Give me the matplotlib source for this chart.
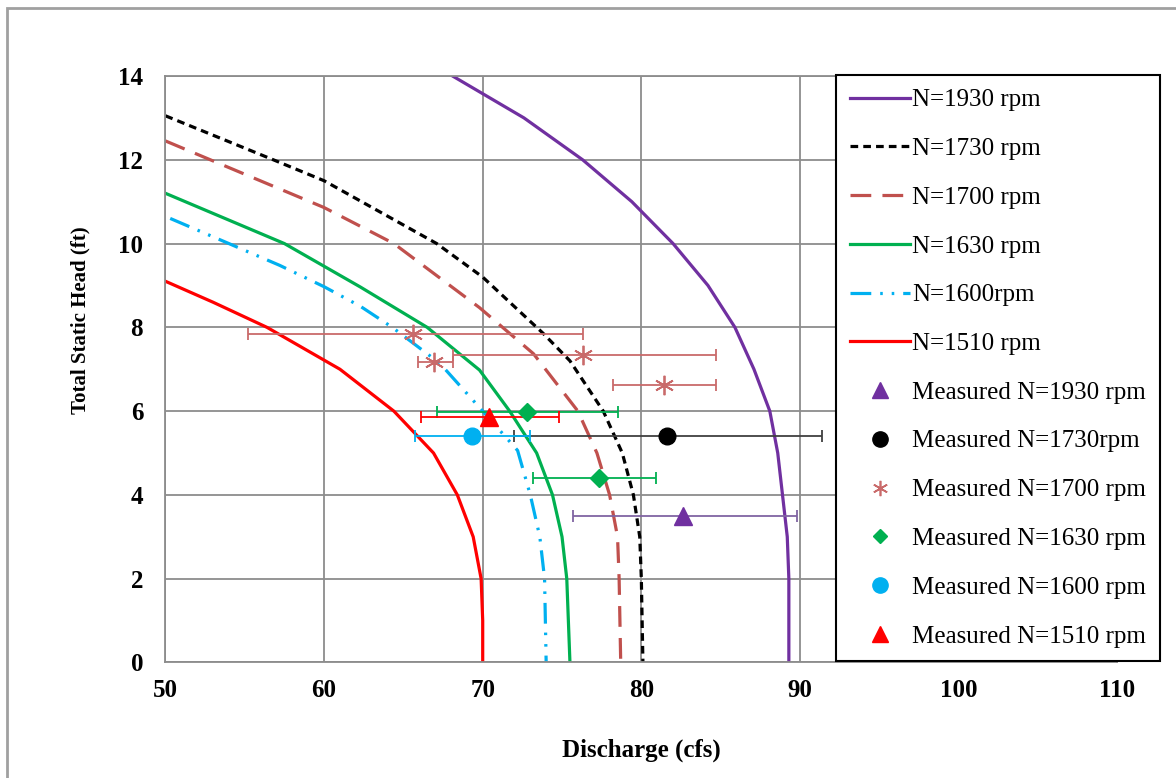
#!/usr/bin/python
# -*- coding: utf-8 -*-

import matplotlib
matplotlib.use('Agg')
import matplotlib.pyplot as plt
from matplotlib.lines import Line2D
from matplotlib.patches import Rectangle
import numpy as np

plt.rcParams['font.family'] = ['Liberation Serif', 'DejaVu Serif']

# pump curves: discharge (cfs) vs total static head (ft)
q1930 = [68.1, 72.6, 76.3, 79.4, 82.0, 84.2, 85.9, 87.1, 88.1, 88.6, 88.9, 89.2, 89.3, 89.3, 89.3]
h1930 = [14.0, 13.0, 12.0, 11.0, 10.0, 9.0, 8.0, 7.0, 6.0, 5.0, 4.0, 3.0, 2.0, 1.0, 0.0]

q1730 = [50.0, 56.8, 60.0, 67.1, 70.0, 73.8, 75.5, 77.6, 78.8, 79.5, 79.9, 80.0, 80.1]
h1730 = [13.05, 12.0, 11.5, 10.0, 9.2, 7.86, 7.2, 6.0, 5.0, 4.0, 3.0, 2.0, 0.0]

q1700 = [50.0, 60.0, 64.4, 69.8, 73.2, 76.0, 77.2, 78.0, 78.5, 78.6, 78.7]
h1700 = [12.45, 10.86, 10.0, 8.47, 7.37, 6.0, 5.0, 4.0, 3.0, 2.0, 0.0]

q1630 = [50.0, 57.5, 62.3, 66.5, 69.8, 71.7, 73.4, 74.4, 75.0, 75.3, 75.5]
h1630 = [11.2, 10.0, 8.96, 8.0, 6.98, 6.0, 5.0, 4.0, 3.0, 2.0, 0.0]

q1600 = [50.3, 54.0, 57.2, 60.0, 62.3, 64.3, 67.3, 70.0, 72.2, 73.0, 73.6, 73.9, 74.0]
h1600 = [10.6, 10.0, 9.48, 8.97, 8.5, 8.0, 7.14, 6.0, 5.06, 4.0, 3.0, 2.0, 0.0]

q1510 = [50.0, 53.0, 56.4, 61.0, 64.4, 66.9, 68.4, 69.4, 69.9, 70.0, 70.0]
h1510 = [9.1, 8.6, 8.0, 7.0, 6.0, 5.0, 4.0, 3.0, 2.0, 1.0, 0.0]

# measured points with discharge ranges (low / high)
m1930_q, m1930_h, m1930_lo, m1930_hi = [82.6], [3.5], [75.7], [89.8]
m1730_q, m1730_h, m1730_lo, m1730_hi = [81.6], [5.4], [72.0], [91.4]
m1700_q = [65.6, 66.9, 76.3, 81.4]
m1700_h = [7.83, 7.18, 7.35, 6.62]
m1700_lo = [55.2, 65.9, 68.1, 78.2]
m1700_hi = [76.3, 68.1, 84.7, 84.7]
m1630_q, m1630_h, m1630_lo, m1630_hi = [72.8, 77.3], [5.97, 4.4], [67.1, 73.2], [78.5, 80.9]
m1600_q, m1600_h, m1600_lo, m1600_hi = [69.3], [5.4], [65.7], [73.0]
m1510_q, m1510_h, m1510_lo, m1510_hi = [70.4], [5.85], [66.1], [74.8]

purple = '#7030A0'
brown = '#C0504D'
green = '#00B050'
cyan = '#00B0F0'
red = '#FF0000'

fig = plt.figure(figsize=(11.76, 7.78), dpi=100)
ax = fig.add_axes([0.1407, 0.1485, 0.8093, 0.7538])

# outer chart frame
fig.patches.append(Rectangle((7 / 1176., -0.1), 1.2, 1.1 - 8 / 778., transform=fig.transFigure,
                             fill=False, edgecolor='#a0a0a0', linewidth=2))

lw = 2.3
l1, = ax.plot(q1930, h1930, color=purple, lw=lw, label='N=1930 rpm')
l2, = ax.plot(q1730, h1730, color='black', lw=lw, linestyle=(0, (2.4, 1.6)), label='N=1730 rpm')
l3, = ax.plot(q1700, h1700, color=brown, lw=lw, linestyle=(0, (6.5, 3.5)), label='N=1700 rpm')
l4, = ax.plot(q1630, h1630, color=green, lw=lw, label='N=1630 rpm')
l5, = ax.plot(q1600, h1600, color=cyan, lw=lw,
              linestyle=(0, (6.5, 2.8, 0.8, 2.8, 0.8, 2.8)), label='N=1600rpm')
l6, = ax.plot(q1510, h1510, color=red, lw=lw, label='N=1510 rpm')


def meas(q, h, lo, hi, color, ecolor, marker, ms, **kw):
    q = np.array(q)
    xerr = [q - np.array(lo), np.array(hi) - q]
    ax.errorbar(q, h, xerr=xerr, fmt='none', ecolor=ecolor, elinewidth=1.3,
                capsize=4.5, capthick=1.3, zorder=4)
    ax.plot(q, h, linestyle='none', marker=marker, ms=ms, color=color, zorder=5, **kw)


meas(m1930_q, m1930_h, m1930_lo, m1930_hi, purple, '#8064A2', '^', 13)
meas(m1730_q, m1730_h, m1730_lo, m1730_hi, 'black', '#404040', 'o', 12)
meas(m1700_q, m1700_h, m1700_lo, m1700_hi, '#C96A6A', '#C96A6A', (6, 2, 0), 14, mew=1.3)
meas(m1630_q, m1630_h, m1630_lo, m1630_hi, green, green, 'D', 9)
meas(m1600_q, m1600_h, m1600_lo, m1600_hi, cyan, cyan, 'o', 12)
meas(m1510_q, m1510_h, m1510_lo, m1510_hi, red, red, '^', 13)

ax.set_xlim(50, 110)
ax.set_ylim(0, 14)
ax.set_xticks(np.arange(50, 111, 10))
ax.set_yticks(np.arange(0, 15, 2))
ax.grid(True, color='#8c8c8c', linewidth=1.3)
ax.set_axisbelow(True)
for s in ax.spines.values():
    s.set_color('#8c8c8c')
    s.set_linewidth(1.3)
ax.tick_params(length=0, labelsize=18, pad=16)
for t in ax.get_xticklabels() + ax.get_yticklabels():
    t.set_fontweight('bold')
ax.tick_params(axis='x', pad=12)

ax.set_xlabel('Discharge (cfs)', fontsize=18, fontweight='bold', labelpad=26)
ax.set_ylabel('Total Static Head (ft)', fontsize=15, fontweight='bold')
ax.yaxis.set_label_coords(-0.0793, 0.584)

handles = [l1, l2, l3, l4, l5, l6,
           Line2D([], [], ls='none', marker='^', ms=11, color=purple),
           Line2D([], [], ls='none', marker='o', ms=11, color='black'),
           Line2D([], [], ls='none', marker=(6, 2, 0), ms=11, color='#C96A6A', mew=1.2),
           Line2D([], [], ls='none', marker='D', ms=7.5, color=green),
           Line2D([], [], ls='none', marker='o', ms=11, color=cyan),
           Line2D([], [], ls='none', marker='^', ms=11, color=red)]
labels = ['N=1930 rpm', 'N=1730 rpm', 'N=1700 rpm', 'N=1630 rpm', 'N=1600rpm', 'N=1510 rpm',
          'Measured N=1930 rpm', 'Measured N=1730rpm', 'Measured N=1700 rpm',
          'Measured N=1630 rpm', 'Measured N=1600 rpm', 'Measured N=1510 rpm']

leg = fig.legend(handles, labels, loc='upper left', bbox_to_anchor=(836 / 1176., 703 / 778.),
                 bbox_transform=fig.transFigure, borderaxespad=0, fontsize=18,
                 frameon=True, fancybox=False, edgecolor='black', framealpha=1,
                 handlelength=2.4, handletextpad=0.1, labelspacing=1.05,
                 borderpad=0.55)
leg.get_frame().set_linewidth(1.5)

plt.savefig('out.png', dpi=100)
